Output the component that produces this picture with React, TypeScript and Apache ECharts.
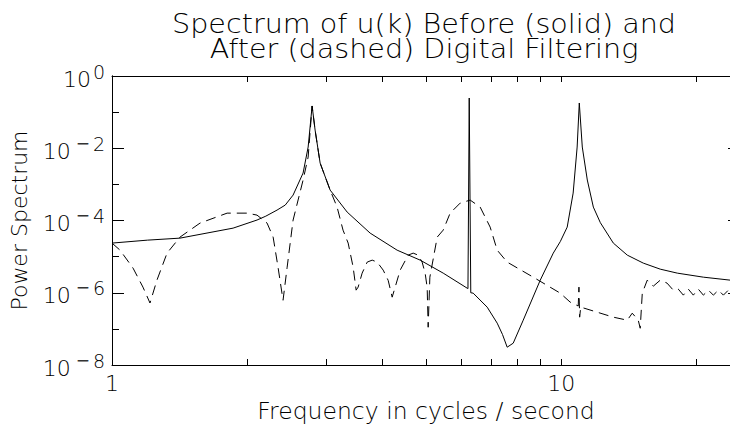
import { useEffect, useRef } from "react";
import * as echarts from "echarts";

// Spectrum before filtering (solid): frequency [Hz] and power
const freqBefore = [
  1.0, 1.2, 1.417, 1.86, 2.103, 2.2, 2.33, 2.43, 2.53, 2.663, 2.733, 2.789,
  2.832, 2.906, 3.059, 3.338, 3.755, 4.312, 4.853, 5.461, 6.175, 6.2, 6.24, 6.29,
  6.368, 6.842, 7.202, 7.4, 7.58, 7.818, 8.23, 8.98, 9.6, 9.95, 10.31, 10.63,
  10.85, 10.97, 11.14, 11.43, 11.79, 12.22, 13.06, 14.03, 15.23, 16.61, 18.13, 20.72,
  23.79, 25,
];
const powerBefore = [
  2.37e-5, 2.86e-5, 3.25e-5, 6.15e-5, 1.03e-4, 1.32e-4, 1.94e-4, 2.67e-4, 5.05e-4, 2.06e-3, 1.08e-2, 0.148,
  3.19e-2, 3.89e-3, 6.95e-4, 1.71e-4, 4.48e-5, 1.51e-5, 8.0e-6, 3.49e-6, 1.34e-6, 1.3e-6, 0.246, 1.0e-6,
  9.75e-7, 3.99e-7, 1.44e-7, 7.0e-8, 3.11e-8, 4.02e-8, 1.74e-7, 2.23e-6, 1.25e-5, 2.6e-5, 6.56e-5, 5.74e-4,
  1.08e-2, 0.179, 1.08e-2, 1.32e-3, 2.35e-4, 8.7e-5, 2.37e-5, 1.1e-5, 6.61e-6, 4.5e-6, 3.49e-6, 2.7e-6,
  2.23e-6, 2.1e-6,
];

// Spectrum after filtering (dashed)
const freqAfter = [
  1.0, 1.042, 1.114, 1.172, 1.215, 1.259, 1.326, 1.417, 1.57, 1.804, 1.998, 2.103,
  2.214, 2.284, 2.342, 2.403, 2.454, 2.53, 2.663, 2.733, 2.789, 2.832, 2.906, 3.059,
  3.17, 3.268, 3.355, 3.442, 3.495, 3.531, 3.604, 3.699, 3.795, 3.893, 4.015, 4.119,
  4.204, 4.269, 4.38, 4.563, 4.682, 4.802, 4.902, 4.978, 5.03, 5.056, 5.1, 5.296,
  5.461, 5.659, 5.957, 6.271, 6.6, 6.947, 7.202, 7.58, 8.663, 9.949, 10.47, 10.91,
  10.95, 10.99, 11.05, 13.06, 14.03, 14.39, 14.84, 14.99, 15.15, 15.54, 16.03, 16.61,
  17.2, 17.76, 18.22, 18.7, 19.18, 19.68, 20.19, 20.72, 21.26, 21.81, 22.38, 22.96,
  23.55, 24.15, 25,
];
const powerAfter = [
  2.37e-5, 1.51e-5, 4.8e-6, 1.43e-6, 5.2e-7, 2.23e-6, 1.25e-5, 3.47e-5, 8.47e-5, 1.6e-4, 1.6e-4, 1.41e-4,
  8.47e-5, 3.47e-5, 5.1e-6, 6.2e-7, 5.1e-6, 1.03e-4, 1.32e-3, 5.71e-3, 0.148, 3.19e-2, 3.89e-3, 6.95e-4,
  2.35e-4, 5.4e-5, 2.37e-5, 5.1e-6, 1.18e-6, 1.43e-6, 3.49e-6, 7.05e-6, 8.0e-6, 7.05e-6, 4.23e-6, 2.2e-6,
  7.55e-7, 1.43e-6, 4.23e-6, 1.1e-5, 1.25e-5, 1.1e-5, 7.05e-6, 3.49e-6, 1.4e-6, 1.11e-7, 2.7e-6, 3.47e-5,
  5.42e-5, 1.6e-4, 3.03e-4, 3.67e-4, 2.35e-4, 6.56e-5, 1.51e-5, 7.05e-6, 2.7e-6, 9.75e-7, 5.5e-7, 4.3e-7,
  1.43e-6, 2.11e-7, 4.0e-7, 2.11e-7, 1.74e-7, 2.72e-7, 1.74e-7, 1.04e-7, 9.75e-7, 2.23e-6, 1.52e-6, 2.23e-6,
  1.85e-6, 1.18e-6, 1.26e-6, 8.59e-7, 1.26e-6, 8.59e-7, 1.26e-6, 8.59e-7, 1.18e-6, 8.59e-7, 1.18e-6, 8.59e-7,
  1.18e-6, 8.59e-7, 1.1e-6,
];

const xLabelValues = [1, 10];
const xTickValues = [1, 2, 3, 4, 5, 6, 7, 8, 9, 10, 20];
const yLabelValues = [1e-8, 1e-6, 1e-4, 1e-2, 1];
const yDecadeValues = [1e-8, 1e-7, 1e-6, 1e-5, 1e-4, 1e-3, 1e-2, 1e-1, 1];

const titleLines = ["Spectrum of u(k) Before (solid) and", "After (dashed) Digital Filtering"];
const xTitle = "Frequency in cycles / second";
const yTitle = "Power Spectrum";

const FONT = "'DejaVu Sans', sans-serif";
const INK = "#000";

const pairs = (xs: number[], ys: number[]) => xs.map((x, i) => [x, ys[i]]);

// "10" with a raised exponent; the minus sign gets its own style
const powerLabel = (v: number) => {
  const e = Math.round(Math.log10(v));
  const sign = e < 0 ? "{m|\u2212}" : "";
  return `{b|10}${sign}{e|${Math.abs(e)}}`;
};

export default function App() {
  const ref = useRef<HTMLDivElement>(null);

  useEffect(() => {
    if (!ref.current) return;
    const chart = echarts.init(ref.current, undefined, { renderer: "svg" });

    const lineAxis = { show: true, lineStyle: { color: INK, width: 1 } };
    const xBase = {
      type: "log" as const,
      min: 1,
      max: 25,
      logBase: 10,
      axisLine: lineAxis,
      splitLine: { show: false },
      minorTick: { show: false },
    };
    const yBase = {
      type: "log" as const,
      min: 1e-8,
      max: 1,
      logBase: 10,
      axisLine: lineAxis,
      splitLine: { show: false },
      minorTick: { show: false },
    };

    const titleStyle = {
      align: "center",
      verticalAlign: "top",
      fontSize: 27,
      lineHeight: 25,
      fontFamily: FONT,
      fontWeight: 200,
      fill: INK,
    };

    chart.setOption({
      animation: false,
      backgroundColor: "#fff",
      grid: {
        left: 112,
        top: 76,
        right: -10,
        bottom: 64,
        containLabel: false,
        outerBoundsMode: "none",
      },
      graphic: titleLines.map((line, i) => ({
        type: "text",
        x: 424,
        y: 11 + i * 25,
        scaleX: 1.06,
        style: { ...titleStyle, text: line },
      })),
      xAxis: [
        {
          ...xBase,
          position: "bottom",
          name: xTitle,
          nameLocation: "middle",
          nameGap: 30,
          nameTextStyle: { fontFamily: FONT, fontWeight: 200, fontSize: 23.5, color: INK },
          axisTick: { show: true, inside: true, length: 6, customValues: xTickValues, lineStyle: { color: INK } },
          axisLabel: {
            show: true,
            customValues: xLabelValues,
            margin: 7,
            fontFamily: FONT,
            fontWeight: 200,
            fontSize: 22,
            color: INK,
            formatter: (v: number) => String(Math.round(v)),
          },
        },
        {
          ...xBase,
          position: "top",
          axisTick: { show: true, inside: true, length: 6, customValues: xTickValues, lineStyle: { color: INK } },
          axisLabel: { show: false },
        },
      ],
      yAxis: [
        {
          ...yBase,
          position: "left",
          name: yTitle,
          nameLocation: "middle",
          nameRotate: 90,
          nameGap: 82,
          nameTextStyle: { fontFamily: FONT, fontWeight: 200, fontSize: 22, color: INK },
          axisTick: { show: true, inside: true, length: 12, customValues: yLabelValues, lineStyle: { color: INK } },
          axisLabel: {
            show: true,
            customValues: yLabelValues,
            margin: 7,
            formatter: powerLabel,
            rich: {
              b: { fontFamily: FONT, fontWeight: 200, fontSize: 22, color: INK, verticalAlign: "bottom", lineHeight: 28 },
              m: {
                fontFamily: FONT,
                fontWeight: "normal",
                fontSize: 17,
                color: "#333",
                verticalAlign: "top",
                lineHeight: 10,
                padding: [0, 1, 0, 5],
              },
              e: {
                fontFamily: FONT,
                fontWeight: 200,
                fontSize: 19,
                color: INK,
                verticalAlign: "top",
                lineHeight: 18,
                padding: [0, 0, 0, 2],
              },
            },
          },
        },
        {
          ...yBase,
          position: "left",
          axisTick: { show: true, inside: true, length: 7, customValues: yDecadeValues, lineStyle: { color: INK } },
          axisLabel: { show: false },
        },
        {
          ...yBase,
          position: "right",
          axisTick: { show: true, inside: true, length: 12, customValues: yLabelValues, lineStyle: { color: INK } },
          axisLabel: { show: false },
        },
        {
          ...yBase,
          position: "right",
          axisTick: { show: true, inside: true, length: 7, customValues: yDecadeValues, lineStyle: { color: INK } },
          axisLabel: { show: false },
        },
      ],
      series: [
        {
          name: "Before",
          type: "line",
          xAxisIndex: 0,
          yAxisIndex: 0,
          data: pairs(freqBefore, powerBefore),
          showSymbol: false,
          symbol: "none",
          lineStyle: { color: INK, width: 1 },
        },
        {
          name: "After",
          type: "line",
          xAxisIndex: 0,
          yAxisIndex: 0,
          data: pairs(freqAfter, powerAfter),
          showSymbol: false,
          symbol: "none",
          lineStyle: { color: INK, width: 1, type: [10, 6] },
        },
      ],
    });

    return () => chart.dispose();
  }, []);

  return <div ref={ref} style={{ width: 730, height: 429, position: "absolute", left: 0, top: 0 }} />;
}
